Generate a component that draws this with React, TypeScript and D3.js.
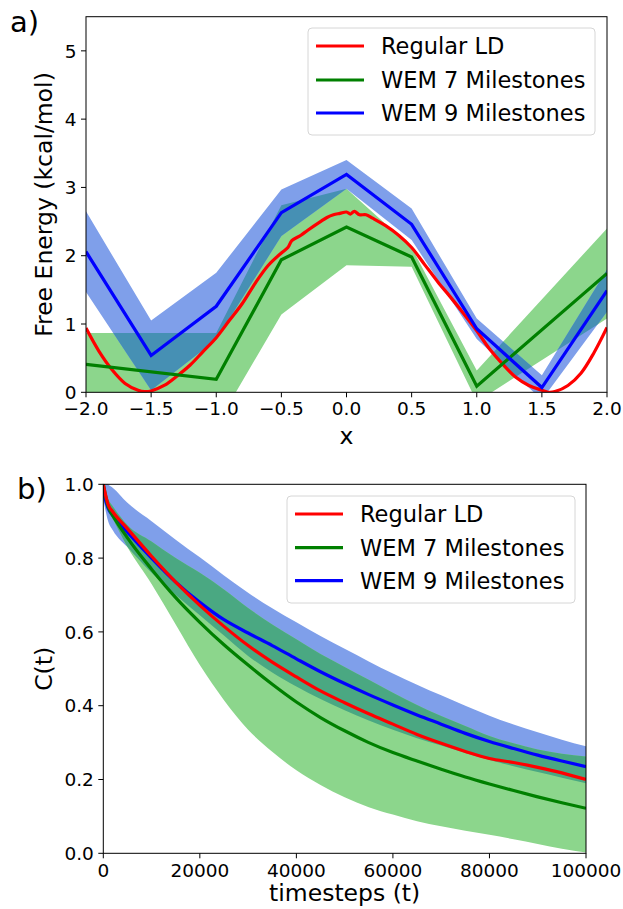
import React from 'react';
import * as d3 from 'd3';

// ---------- Panel a) free energy ----------
const FE_X_TICKS = [-2, -1.5, -1, -0.5, 0, 0.5, 1, 1.5, 2];
const FE_Y_TICKS = [0, 1, 2, 3, 4, 5];

const WEM9_X = [-2, -1.5, -1, -0.5, 0, 0.5, 1, 1.5, 2];
const WEM9_FE = [2.06, 0.54, 1.26, 2.63, 3.19, 2.46, 0.93, 0.07, 1.49];
const WEM9_FE_HI = [2.65, 1.05, 1.75, 2.97, 3.4, 2.69, 1.08, 0.25, 1.8];
const WEM9_FE_LO = [1.47, 0.03, 0.77, 2.29, 2.98, 2.23, 0.78, -0.11, 1.18];

const WEM7_X = [-2, -1, -0.5, 0, 0.5, 1, 2];
const WEM7_FE = [0.41, 0.19, 1.94, 2.42, 1.98, 0.09, 1.74];
const WEM7_FE_HI = [0.87, 0.87, 2.74, 2.98, 2.12, 0.32, 2.4];
const WEM7_FE_LO = [-0.05, -0.49, 1.14, 1.86, 1.84, -0.14, 1.08];

const LD_X = [-2, -1.9, -1.8, -1.7, -1.6, -1.55, -1.5, -1.4, -1.3, -1.2, -1.1, -1, -0.9, -0.8, -0.7, -0.6, -0.5, -0.45, -0.42, -0.35, -0.3, -0.2, -0.15, -0.1, -0.05, 0, 0.03, 0.06, 0.1, 0.15, 0.2, 0.3, 0.4, 0.5, 0.6, 0.7, 0.8, 0.9, 1, 1.1, 1.2, 1.3, 1.4, 1.5, 1.55, 1.6, 1.7, 1.8, 1.9, 2];
const LD_FE = [0.94, 0.6, 0.33, 0.13, 0.03, 0.01, 0.02, 0.1, 0.24, 0.4, 0.6, 0.8, 1.05, 1.3, 1.6, 1.86, 2.04, 2.12, 2.22, 2.3, 2.37, 2.5, 2.56, 2.6, 2.62, 2.64, 2.61, 2.65, 2.6, 2.6, 2.55, 2.44, 2.3, 2.12, 1.87, 1.62, 1.39, 1.15, 0.9, 0.63, 0.41, 0.22, 0.1, 0.03, 0.0, 0.01, 0.1, 0.28, 0.58, 0.95];

// ---------- Panel b) C(t) ----------
const CT_X_TICKS = [0, 20000, 40000, 60000, 80000, 100000];
const CT_Y_TICKS = [0, 0.2, 0.4, 0.6, 0.8, 1.0];

const T = [0, 1000, 2000, 5000, 10000, 15000, 20000, 25000, 30000, 35000, 40000, 45000, 50000, 55000, 60000, 65000, 70000, 75000, 80000, 85000, 90000, 95000, 100000];
const C_LD = [1.0, 0.945, 0.925, 0.88, 0.805, 0.735, 0.672, 0.615, 0.563, 0.518, 0.478, 0.44, 0.408, 0.378, 0.35, 0.322, 0.298, 0.276, 0.257, 0.246, 0.233, 0.218, 0.2];
const C_WEM9 = [0.98, 0.935, 0.915, 0.87, 0.8, 0.735, 0.68, 0.633, 0.597, 0.563, 0.527, 0.492, 0.46, 0.43, 0.402, 0.375, 0.35, 0.325, 0.303, 0.284, 0.266, 0.25, 0.235];
const C_WEM9_HI = [1.02, 1.0, 0.99, 0.95, 0.9, 0.85, 0.802, 0.753, 0.706, 0.664, 0.626, 0.589, 0.554, 0.52, 0.487, 0.457, 0.428, 0.4, 0.373, 0.349, 0.328, 0.308, 0.29];
const C_WEM9_LO = [0.96, 0.9, 0.875, 0.83, 0.76, 0.7, 0.645, 0.59, 0.535, 0.49, 0.452, 0.418, 0.388, 0.36, 0.335, 0.312, 0.292, 0.272, 0.253, 0.236, 0.22, 0.205, 0.19];
const C_WEM7 = [1.0, 0.94, 0.915, 0.855, 0.77, 0.693, 0.626, 0.565, 0.51, 0.458, 0.41, 0.368, 0.332, 0.3, 0.273, 0.25, 0.228, 0.207, 0.188, 0.17, 0.153, 0.137, 0.122];
const C_WEM7_HI = [1.0, 0.96, 0.94, 0.89, 0.845, 0.8, 0.76, 0.715, 0.665, 0.62, 0.58, 0.54, 0.505, 0.47, 0.435, 0.402, 0.372, 0.345, 0.318, 0.298, 0.281, 0.27, 0.262];
const C_WEM7_LO = [0.99, 0.93, 0.905, 0.83, 0.73, 0.62, 0.51, 0.415, 0.335, 0.275, 0.225, 0.185, 0.152, 0.125, 0.105, 0.087, 0.073, 0.061, 0.05, 0.038, 0.025, 0.012, 0.002];

const LEGEND = ['Regular LD', 'WEM 7 Milestones', 'WEM 9 Milestones'];
const LINE_COLORS = ['#ff0000', '#008000', '#0000ff'];

const FONT = '"DejaVu Sans", sans-serif';
const BLUE_FILL = '#7f9fea';
const GREEN_FILL = '#8cd68c';
const TOP_OVERLAP = '#4690b4';
const BOT_OVERLAP = '#4aa882';
const LW = 3.2;

function fmtMinus(v: number, digits: number) {
  const s = Math.abs(v).toFixed(digits);
  return v < 0 ? '\u2212' + s : s;
}

export default function App() {
  const A = { l: 86, r: 607, t: 16.7, b: 392.3 };
  const xa = d3.scaleLinear().domain([-2, 2]).range([A.l, A.r]);
  const ya = d3.scaleLinear().domain([0, 5.5]).range([A.b, A.t]);

  const B = { l: 103.3, r: 586, t: 484.3, b: 853.3 };
  const xb = d3.scaleLinear().domain([0, 100000]).range([B.l, B.r]);
  const yb = d3.scaleLinear().domain([0, 1]).range([B.b, B.t]);

  const idx = (arr: number[]) => arr.map((_, i) => i);

  const areaA = (X: number[], lo: number[], hi: number[]) =>
    d3.area<number>().x((i) => xa(X[i])).y0((i) => ya(lo[i])).y1((i) => ya(hi[i]))(idx(X)) || '';
  const lineA = (X: number[], Y: number[], curve: any = d3.curveLinear) =>
    d3.line<number>().x((i) => xa(X[i])).y((i) => ya(Y[i])).curve(curve)(idx(X)) || '';

  const areaB = (lo: number[], hi: number[]) =>
    d3.area<number>().x((i) => xb(T[i])).y0((i) => yb(lo[i])).y1((i) => yb(hi[i])).curve(d3.curveMonotoneX)(idx(T)) || '';
  const lineB = (Y: number[]) =>
    d3.line<number>().x((i) => xb(T[i])).y((i) => yb(Y[i])).curve(d3.curveMonotoneX)(idx(T)) || '';

  const g7a = areaA(WEM7_X, WEM7_FE_LO, WEM7_FE_HI);
  const b9a = areaA(WEM9_X, WEM9_FE_LO, WEM9_FE_HI);
  const g7b = areaB(C_WEM7_LO, C_WEM7_HI);
  const b9b = areaB(C_WEM9_LO, C_WEM9_HI);

  const tickFs = 18.5;
  const labelFs = 23.5;
  const legFs = 22.5;

  const legend = (x0: number, y0: number, w: number, h: number, rows: number[], lx0: number, lx1: number, tx: number, baseOff: number) => (
    <g>
      <rect x={x0} y={y0} width={w} height={h} rx={4} ry={4} fill="#ffffff" fillOpacity={0.8} stroke="#d6d6d6" strokeWidth={1} />
      {LEGEND.map((name, i) => (
        <g key={name}>
          <line x1={lx0} x2={lx1} y1={rows[i]} y2={rows[i]} stroke={LINE_COLORS[i]} strokeWidth={LW} />
          <text x={tx} y={rows[i] + baseOff} fontSize={legFs} fontFamily={FONT} fill="#000">{name}</text>
        </g>
      ))}
    </g>
  );

  return (
    <svg width={623} height={909} style={{ position: 'absolute', left: 0, top: 0, background: '#fff' }} xmlns="http://www.w3.org/2000/svg">
      <defs>
        <clipPath id="clipA"><rect x={A.l} y={A.t} width={A.r - A.l} height={A.b - A.t} /></clipPath>
        <clipPath id="clipB"><rect x={B.l} y={B.t} width={B.r - B.l} height={B.b - B.t} /></clipPath>
        <clipPath id="clipAGreen"><path d={g7a} /></clipPath>
        <clipPath id="clipBBlue"><path d={b9b} /></clipPath>
      </defs>
      <rect x={0} y={0} width={623} height={909} fill="#fff" />

      {/* ---------- Panel a ---------- */}
      <g clipPath="url(#clipA)">
        <path d={g7a} fill={GREEN_FILL} />
        <path d={b9a} fill={BLUE_FILL} />
        <g clipPath="url(#clipAGreen)">
          <path d={b9a} fill={TOP_OVERLAP} />
        </g>
        <path d={lineA(LD_X, LD_FE, d3.curveCatmullRom)} fill="none" stroke={LINE_COLORS[0]} strokeWidth={LW} strokeLinejoin="round" />
        <path d={lineA(WEM7_X, WEM7_FE)} fill="none" stroke={LINE_COLORS[1]} strokeWidth={LW} />
        <path d={lineA(WEM9_X, WEM9_FE)} fill="none" stroke={LINE_COLORS[2]} strokeWidth={LW} />
      </g>
      <rect x={A.l} y={A.t} width={A.r - A.l} height={A.b - A.t} fill="none" stroke="#000" strokeWidth={1} />
      {FE_X_TICKS.map((v) => (
        <g key={'xa' + v}>
          <line x1={xa(v)} x2={xa(v)} y1={A.b} y2={A.b + 5} stroke="#000" strokeWidth={1} />
          <text x={xa(v)} y={A.b + 23} textAnchor="middle" fontSize={tickFs} fontFamily={FONT}>{fmtMinus(v, 1)}</text>
        </g>
      ))}
      {FE_Y_TICKS.map((v) => (
        <g key={'ya' + v}>
          <line x1={A.l - 5} x2={A.l} y1={ya(v)} y2={ya(v)} stroke="#000" strokeWidth={1} />
          <text x={A.l - 9.5} y={ya(v) + 6.7} textAnchor="end" fontSize={tickFs} fontFamily={FONT}>{String(v)}</text>
        </g>
      ))}
      <text x={(A.l + A.r) / 2} y={443.5} textAnchor="middle" fontSize={labelFs} fontFamily={FONT}>x</text>
      <text transform={`translate(52,${(A.t + A.b) / 2}) rotate(-90)`} textAnchor="middle" fontSize={labelFs} fontFamily={FONT}>Free Energy (kcal/mol)</text>
      <text x={10} y={32} fontSize={29} fontFamily={FONT}>a)</text>
      {legend(308, 28, 287, 107, [46, 80, 113], 316, 364, 381, 8.3)}

      {/* ---------- Panel b ---------- */}
      <g clipPath="url(#clipB)">
        <path d={b9b} fill={BLUE_FILL} />
        <path d={g7b} fill={GREEN_FILL} />
        <g clipPath="url(#clipBBlue)">
          <path d={g7b} fill={BOT_OVERLAP} />
        </g>
        <path d={lineB(C_WEM9)} fill="none" stroke={LINE_COLORS[2]} strokeWidth={LW} />
        <path d={lineB(C_WEM7)} fill="none" stroke={LINE_COLORS[1]} strokeWidth={LW} />
        <path d={lineB(C_LD)} fill="none" stroke={LINE_COLORS[0]} strokeWidth={LW} />
      </g>
      <rect x={B.l} y={B.t} width={B.r - B.l} height={B.b - B.t} fill="none" stroke="#000" strokeWidth={1} />
      {CT_X_TICKS.map((v) => (
        <g key={'xb' + v}>
          <line x1={xb(v)} x2={xb(v)} y1={B.b} y2={B.b + 5} stroke="#000" strokeWidth={1} />
          <text x={xb(v)} y={B.b + 23.5} textAnchor="middle" fontSize={tickFs} fontFamily={FONT}>{String(v)}</text>
        </g>
      ))}
      {CT_Y_TICKS.map((v) => (
        <g key={'yb' + v}>
          <line x1={B.l - 5} x2={B.l} y1={yb(v)} y2={yb(v)} stroke="#000" strokeWidth={1} />
          <text x={B.l - 9.5} y={yb(v) + 6.7} textAnchor="end" fontSize={tickFs} fontFamily={FONT}>{v.toFixed(1)}</text>
        </g>
      ))}
      <text x={(B.l + B.r) / 2} y={901} textAnchor="middle" fontSize={labelFs} fontFamily={FONT}>timesteps (t)</text>
      <text transform={`translate(52,${(B.t + B.b) / 2}) rotate(-90)`} textAnchor="middle" fontSize={labelFs} fontFamily={FONT}>C(t)</text>
      <text x={17} y={499} fontSize={29} fontFamily={FONT}>b)</text>
      {legend(287, 496, 288, 107, [514, 547.7, 580.7], 295, 343, 360, 8.3)}
    </svg>
  );
}
